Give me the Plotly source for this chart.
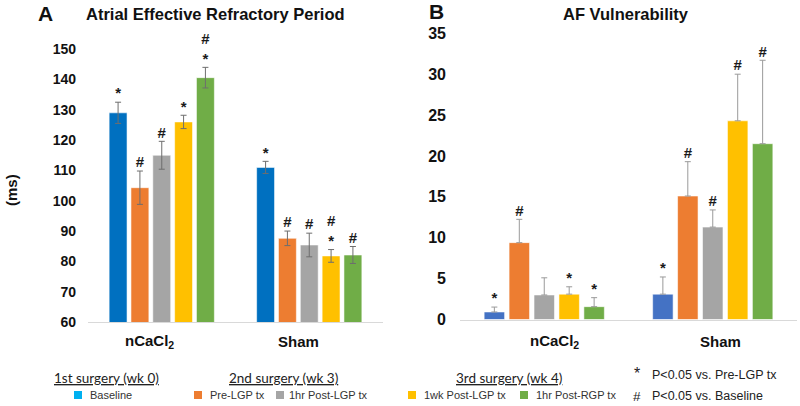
import plotly.graph_objects as go

W, H = 800, 406

groups = ["nCaCl2", "Sham"]
group_labels = ["nCaCl<sub>2</sub>", "Sham"]
series = ["Baseline", "Pre-LGP tx", "1hr Post-LGP tx", "1wk Post-LGP tx", "1hr Post-RGP tx"]

erp_baseline = [129.0, 111.0]
erp_pre_lgp = [104.3, 87.6]
erp_1hr_post_lgp = [115.0, 85.4]
erp_1wk_post_lgp = [126.0, 81.8]
erp_1hr_post_rgp = [140.6, 82.1]
erp_err = [[3.5, 2.0], [5.5, 2.4], [4.6, 3.9], [2.2, 2.1], [3.4, 2.8]]
erp_sig = [["*", "*"], ["#", "#"], ["#", "#"], ["*", "#<br>*"], ["#<br>*", "#"]]

af_baseline = [0.92, 3.1]
af_pre_lgp = [9.4, 15.1]
af_1hr_post_lgp = [3.0, 11.3]
af_1wk_post_lgp = [3.1, 24.3]
af_1hr_post_rgp = [1.57, 21.5]
af_err = [[0.6, 2.1], [2.85, 4.2], [2.1, 2.1], [0.9, 5.7], [1.1, 10.2]]
af_sig = [["*", "*"], ["#", "#"], [" ", "#"], ["*", "#"], ["*", "#"]]

erp_ticks = [60, 70, 80, 90, 100, 110, 120, 130, 140, 150]
af_ticks = [0, 5, 10, 15, 20, 25, 30, 35]

erp_vals = [erp_baseline, erp_pre_lgp, erp_1hr_post_lgp, erp_1wk_post_lgp, erp_1hr_post_rgp]
af_vals = [af_baseline, af_pre_lgp, af_1hr_post_lgp, af_1wk_post_lgp, af_1hr_post_rgp]

colors_a = ["#0070C0", "#ED7D31", "#A5A5A5", "#FFC000", "#70AD47"]
colors_b = ["#4472C4", "#ED7D31", "#A5A5A5", "#FFC000", "#70AD47"]
legend_colors = ["#00B0F0", "#ED7D31", "#A5A5A5", "#FFC000", "#70AD47"]

FONT = "Liberation Sans, Arial, sans-serif"

fig = go.Figure()

for i, name in enumerate(series):
    fig.add_trace(go.Bar(
        x=groups, y=erp_vals[i], name=name, xaxis="x", yaxis="y",
        marker=dict(color=colors_a[i], line=dict(color="rgba(255,255,255,0.55)", width=1)),
        error_y=dict(type="data", array=erp_err[i], color="#6E6E6E", thickness=1, width=3),
        showlegend=False, offsetgroup="a%d" % i, alignmentgroup="A", hoverinfo="skip",
    ))
    fig.add_trace(go.Scatter(
        x=groups, y=[v + e for v, e in zip(erp_vals[i], erp_err[i])], mode="text",
        text=erp_sig[i], textposition="top center", xaxis="x", yaxis="y",
        textfont=dict(family=FONT, size=15, color="#1a1a1a", weight="bold"),
        showlegend=False, offsetgroup="a%d" % i, alignmentgroup="A", hoverinfo="skip",
    ))

for i, name in enumerate(series):
    fig.add_trace(go.Bar(
        x=groups, y=af_vals[i], name=name, xaxis="x2", yaxis="y2",
        marker=dict(color=colors_b[i], line=dict(color="rgba(255,255,255,0.55)", width=1)),
        error_y=dict(type="data", symmetric=False, array=af_err[i],
                     arrayminus=[0] * len(af_err[i]), color="#9A9A9A", thickness=1, width=3),
        showlegend=False, offsetgroup="b%d" % i, alignmentgroup="B", hoverinfo="skip",
    ))
    fig.add_trace(go.Scatter(
        x=groups, y=[v + e for v, e in zip(af_vals[i], af_err[i])], mode="text",
        text=af_sig[i], textposition="top center", xaxis="x2", yaxis="y2",
        textfont=dict(family=FONT, size=15, color="#1a1a1a", weight="bold"),
        showlegend=False, offsetgroup="b%d" % i, alignmentgroup="B", hoverinfo="skip",
    ))

axis_common = dict(showgrid=False, zeroline=False, automargin=False)
fig.update_layout(
    width=W, height=H,
    autosize=False,
    showlegend=False,
    margin=dict(l=0, r=0, t=0, b=0, pad=0),
    paper_bgcolor="white", plot_bgcolor="white",
    barmode="group", bargap=0.26, bargroupgap=0.18,
    scattermode="group", scattergap=0.26,
    font=dict(family=FONT, color="#111111"),
    xaxis=dict(domain=[88 / W, 383 / W], showticklabels=False, showline=True,
               linecolor="#D9D9D9", linewidth=1, ticks="", **axis_common),
    yaxis=dict(domain=[1 - 322 / H, 1 - 34 / H], range=[60, 155], tickvals=erp_ticks,
               showline=False, ticks="", ticklabelstandoff=11,
               tickfont=dict(family=FONT, size=14, color="#111111", weight="bold"),
               **axis_common),
    xaxis2=dict(domain=[460 / W, 797 / W], showticklabels=False, showline=True,
                linecolor="#D9D9D9", linewidth=1, ticks="", anchor="y2", **axis_common),
    yaxis2=dict(domain=[1 - 319.5 / H, 1 - 33.3 / H], range=[0, 35], tickvals=af_ticks,
                anchor="x2", showline=False, ticks="", ticklabelstandoff=13,
                tickfont=dict(family=FONT, size=16, color="#111111", weight="bold"),
                **axis_common),
)

ann = []
def add_text(x, y, text, size, bold=False, xanchor="center", family=FONT, color="#111111", textangle=0):
    ann.append(dict(x=x / W, y=1 - y / H, xref="paper", yref="paper", text=text,
                    showarrow=False, xanchor=xanchor, yanchor="middle", textangle=textangle,
                    font=dict(family=family, size=size, color=color,
                              weight="bold" if bold else "normal")))

add_text(45, 13, "A", 21, bold=True)
add_text(215, 14, "Atrial Effective Refractory Period", 16.5, bold=True)
add_text(436, 12, "B", 21, bold=True)
add_text(626, 14, "AF Vulnerability", 16.5, bold=True)
add_text(11, 190, "(ms)", 15, bold=True, textangle=-90)

for xa, shifts in (("x", [-12, -11]), ("x2", [10, 8])):
    for g, lab, s in zip(groups, group_labels, shifts):
        ann.append(dict(x=g, xref=xa, y=1 - 341 / H, yref="paper", text=lab, showarrow=False,
                        xshift=s, xanchor="center", yanchor="middle",
                        font=dict(family=FONT, size=15, color="#111111", weight="bold")))

HFONT = "Lato, Noto Sans, sans-serif"
add_text(106, 378, "<u>1st surgery (wk 0)</u>", 13.5, family=HFONT, color="#222222")
add_text(283.5, 378, "<u>2nd surgery (wk 3)</u>", 13.5, family=HFONT, color="#222222")
add_text(508.5, 378, "<u>3rd surgery (wk 4)</u>", 13.5, family=HFONT, color="#222222")

leg_sq_x = [74, 194, 276, 408, 520]
leg_txt_x = [88, 208, 287, 422, 534]
shapes = []
for i, name in enumerate(series):
    shapes.append(dict(type="rect", xref="paper", yref="paper",
                       x0=leg_sq_x[i] / W, x1=(leg_sq_x[i] + 8) / W,
                       y0=1 - 399 / H, y1=1 - 391 / H,
                       fillcolor=legend_colors[i], line=dict(width=0)))
    add_text(leg_txt_x[i], 395, name, 11, xanchor="left", color="#333333")

add_text(636.5, 373, "*", 16, color="#222222")
add_text(636.5, 396, "#", 13.5, color="#222222")
add_text(650, 375, "P&lt;0.05 vs. Pre-LGP tx", 12.5, xanchor="left", color="#222222")
add_text(650, 396, "P&lt;0.05 vs. Baseline", 12.5, xanchor="left", color="#222222")

fig.update_layout(annotations=ann, shapes=shapes)
fig.write_html("out.html", config={"displayModeBar": False, "responsive": False},
               post_script="document.body.style.margin='0px';document.body.style.overflow='hidden';")
